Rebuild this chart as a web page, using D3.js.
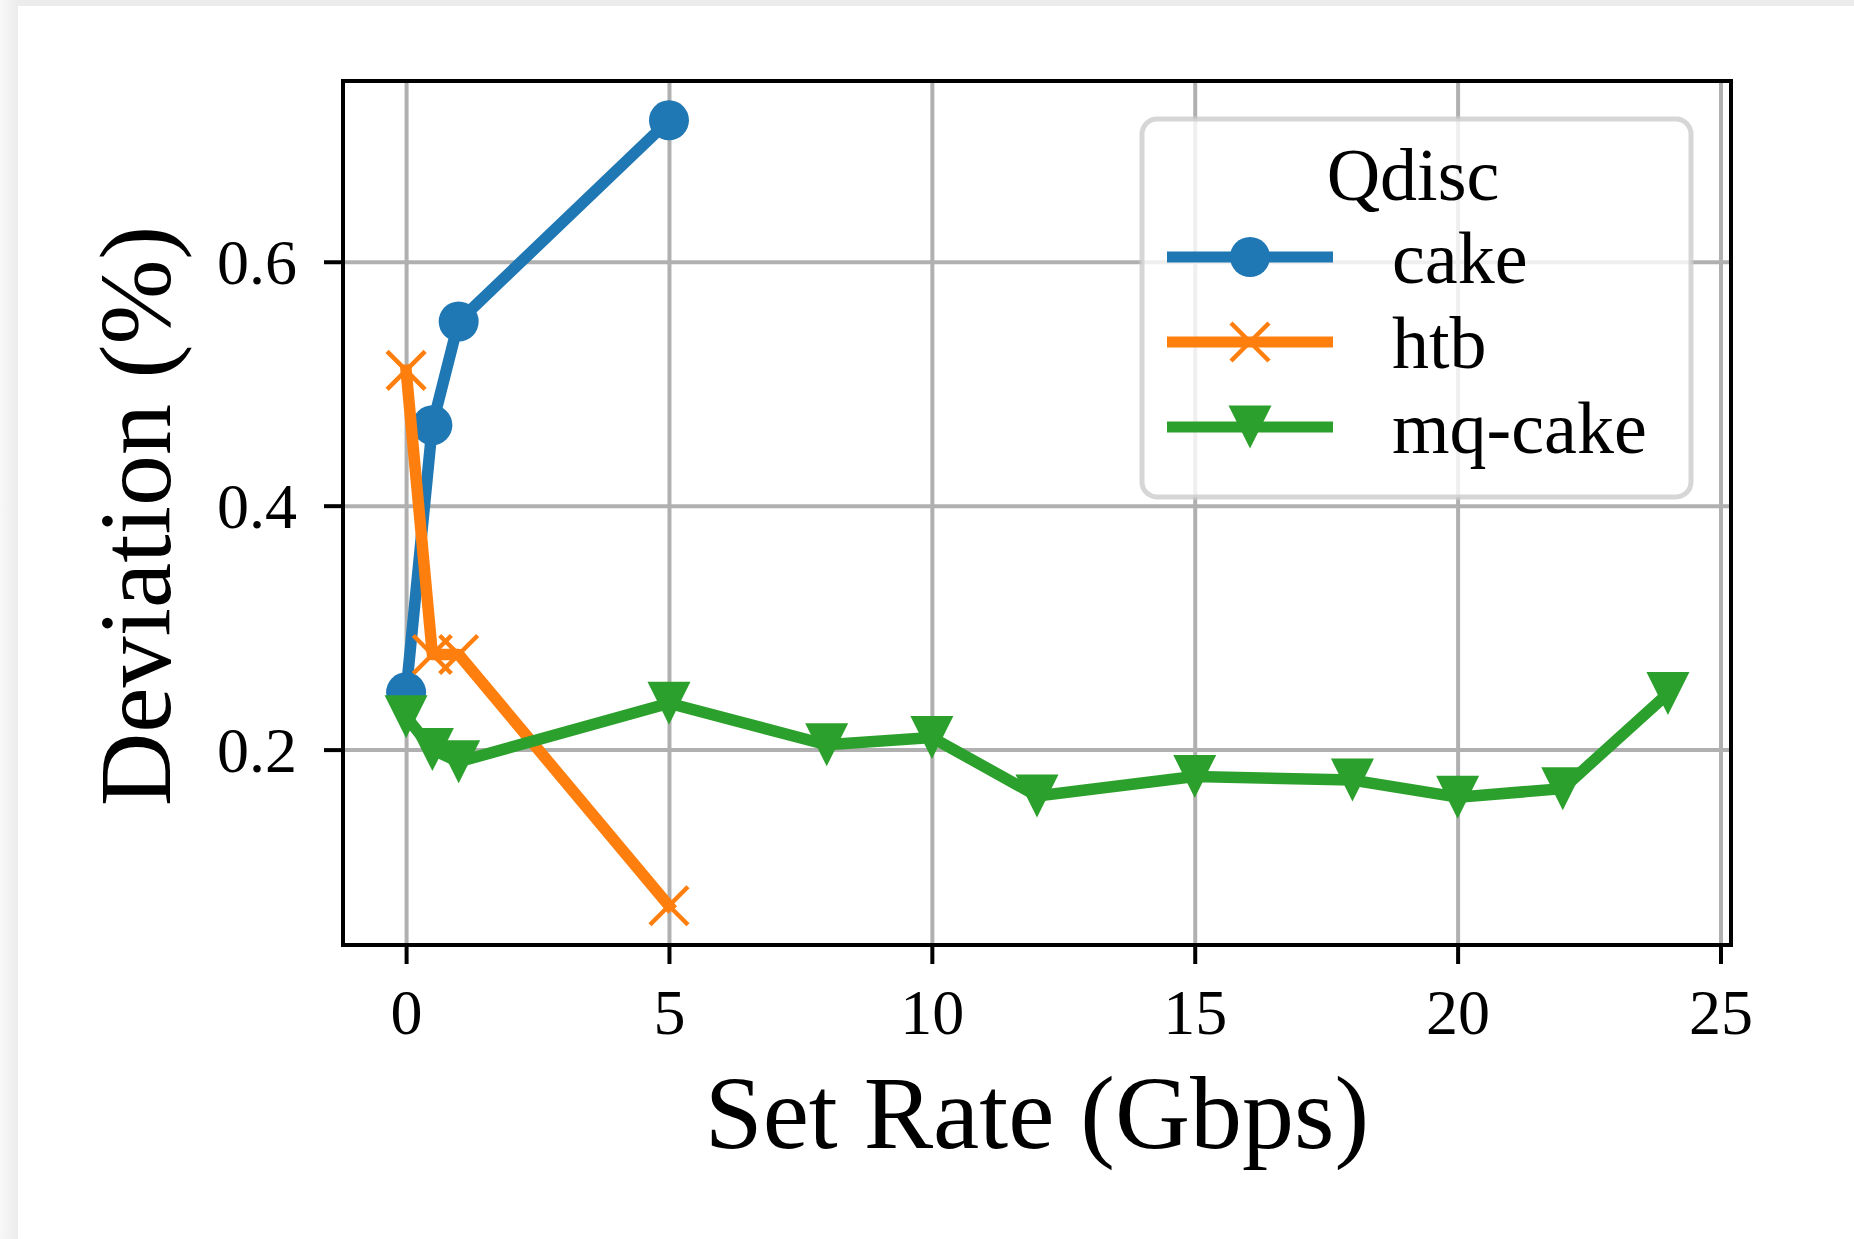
<!DOCTYPE html>
<html>
<head>
<meta charset="utf-8">
<script src="https://cdn.jsdelivr.net/npm/d3@7"></script>
<style>
  html, body { margin: 0; padding: 0; }
  body {
    width: 1854px; height: 1239px; overflow: hidden; position: relative;
    background: linear-gradient(to right, #f8f8f8 0px, #ececec 18px);
  }
  #card {
    position: absolute; left: 18px; top: 6px; right: 0; bottom: 0;
    background: #ffffff;
  }
  #chart { position: absolute; left: 0; top: 0; }
  text { font-family: "Liberation Serif", "DejaVu Serif", serif; fill: #000; }
</style>
</head>
<body>
<div id="card"></div>
<div id="chart"></div>
<script>
// values
const cakeRate = [0, 0.5, 1, 5];
const cakeDev = [0.247, 0.466, 0.551, 0.716];
const htbRate = [0, 0.5, 1, 5];
const htbDev = [0.511, 0.278, 0.278, 0.072];
const mqRate = [0, 0.5, 1, 5, 8, 10, 12, 15, 18, 20, 22, 24];
const mqDev = [0.227, 0.200, 0.190, 0.238, 0.204, 0.210, 0.162, 0.178, 0.175, 0.161, 0.168, 0.246];
const seriesNames = ["cake", "htb", "mq-cake"];
const xTicks = [0, 5, 10, 15, 20, 25];
const yTicks = [0.2, 0.4, 0.6];

const W = 1854, H = 1239;
const pLeft = 343, pRight = 1731, pTop = 81, pBottom = 945;

const svg = d3.select("#chart").append("svg")
    .attr("width", W)
    .attr("height", H);

const x = d3.scaleLinear().domain([-1.2, 25.2]).range([pLeft, pRight]);
const y = d3.scaleLinear().domain([0.0398, 0.7482]).range([pBottom, pTop]);

// grid
svg.append("g")
    .attr("transform", `translate(0,${pBottom})`)
    .call(d3.axisBottom(x).tickValues(xTicks).tickSize(-(pBottom - pTop)).tickFormat(""))
    .call(g => g.select(".domain").remove())
    .call(g => g.selectAll("line").attr("stroke", "#b0b0b0").attr("stroke-width", 4));
svg.append("g")
    .attr("transform", `translate(${pLeft},0)`)
    .call(d3.axisLeft(y).tickValues(yTicks).tickSize(-(pRight - pLeft)).tickFormat(""))
    .call(g => g.select(".domain").remove())
    .call(g => g.selectAll("line").attr("stroke", "#b0b0b0").attr("stroke-width", 4));

// series
const series = [
  { name: seriesNames[0], xs: cakeRate, ys: cakeDev, color: "#1f77b4", marker: "circle" },
  { name: seriesNames[1], xs: htbRate, ys: htbDev, color: "#ff7f0e", marker: "x" },
  { name: seriesNames[2], xs: mqRate, ys: mqDev, color: "#2ca02c", marker: "tri" }
];

const line = d3.line().x(d => x(d[0])).y(d => y(d[1]));

function drawMarker(g, kind, cx, cy, color) {
  if (kind === "circle") {
    g.append("circle").attr("cx", cx).attr("cy", cy).attr("r", 20).attr("fill", color);
  } else if (kind === "x") {
    const s = 19;
    g.append("path")
        .attr("d", `M${cx - s},${cy - s}L${cx + s},${cy + s}M${cx - s},${cy + s}L${cx + s},${cy - s}`)
        .attr("stroke", color).attr("stroke-width", 4.5).attr("fill", "none");
  } else {
    const s = 21.5;
    g.append("path")
        .attr("d", `M${cx - s},${cy - s}L${cx + s},${cy - s}L${cx},${cy + s}Z`)
        .attr("fill", color);
  }
}

const plot = svg.append("g");
series.forEach(s => {
  const pts = s.xs.map((v, i) => [v, s.ys[i]]);
  const g = plot.append("g");
  g.append("path")
      .datum(pts)
      .attr("d", line)
      .attr("fill", "none")
      .attr("stroke", s.color)
      .attr("stroke-width", 11.5)
      .attr("stroke-linejoin", "round")
      .attr("stroke-linecap", "square");
  pts.forEach(p => drawMarker(g, s.marker, x(p[0]), y(p[1]), s.color));
});

// frame
svg.append("rect")
    .attr("x", pLeft).attr("y", pTop)
    .attr("width", pRight - pLeft).attr("height", pBottom - pTop)
    .attr("fill", "none").attr("stroke", "#000").attr("stroke-width", 4);

// axes
svg.append("g")
    .attr("transform", `translate(0,${pBottom})`)
    .call(d3.axisBottom(x).tickValues(xTicks).tickSize(19).tickFormat(d3.format("d")))
    .call(g => g.select(".domain").remove())
    .call(g => g.selectAll("line").attr("stroke", "#000").attr("stroke-width", 4))
    .call(g => g.selectAll("text")
        .attr("y", 89).attr("dy", 0)
        .style("font-size", "64px")
        .style("font-family", "'Liberation Serif', serif"));

svg.append("g")
    .attr("transform", `translate(${pLeft},0)`)
    .call(d3.axisLeft(y).tickValues(yTicks).tickSize(19).tickFormat(d3.format(".1f")))
    .call(g => g.select(".domain").remove())
    .call(g => g.selectAll("line").attr("stroke", "#000").attr("stroke-width", 4))
    .call(g => g.selectAll("text")
        .attr("x", -46).attr("dy", 21.6)
        .style("font-size", "64px")
        .style("font-family", "'Liberation Serif', serif"));

// axis labels
svg.append("text")
    .attr("x", (pLeft + pRight) / 2)
    .attr("y", 1148)
    .attr("text-anchor", "middle")
    .style("font-size", "104px")
    .text("Set Rate (Gbps)");

svg.append("text")
    .attr("transform", `translate(170,${(pTop + pBottom) / 2 + 3}) rotate(-90)`)
    .attr("text-anchor", "middle")
    .style("font-size", "102px")
    .text("Deviation (%)");

// legend
const lg = svg.append("g");
lg.append("rect")
    .attr("x", 1142).attr("y", 119)
    .attr("width", 549).attr("height", 378)
    .attr("rx", 15).attr("ry", 15)
    .attr("fill", "#ffffff").attr("fill-opacity", 0.8)
    .attr("stroke", "#cccccc").attr("stroke-opacity", 0.8).attr("stroke-width", 5);

lg.append("text")
    .attr("x", 1413).attr("y", 200)
    .attr("text-anchor", "middle")
    .style("font-size", "74px")
    .text("Qdisc");

series.forEach((s, i) => {
  const ly = 257 + i * 85;
  lg.append("line")
      .attr("x1", 1167).attr("x2", 1333)
      .attr("y1", ly).attr("y2", ly)
      .attr("stroke", s.color).attr("stroke-width", 11);
  drawMarker(lg, s.marker, 1250, ly, s.color);
  lg.append("text")
      .attr("x", 1392).attr("y", ly + 26)
      .style("font-size", "74px")
      .text(s.name);
});
</script>
</body>
</html>
